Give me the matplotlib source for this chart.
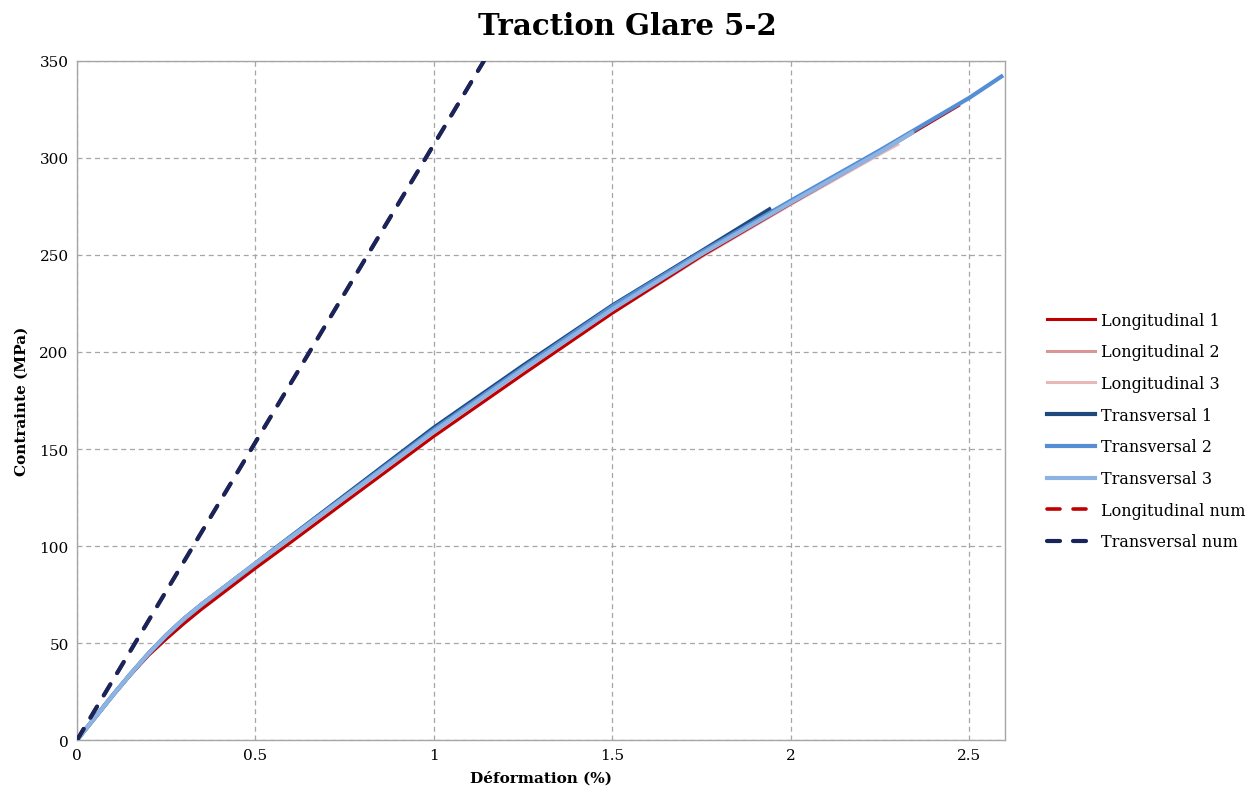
import matplotlib
matplotlib.use("Agg")
import matplotlib.pyplot as plt

plt.rcParams['font.family'] = ['DejaVu Serif']

# ---- data (strain %, stress MPa) ----
long1_x = [0, 0.05, 0.1, 0.15, 0.2, 0.25, 0.3, 0.35, 0.4, 0.45, 0.5, 0.6, 0.75, 1.0, 1.25, 1.5, 1.75, 2.0, 2.25, 2.47]
long1_y = [0, 11.5, 23, 33.5, 43.5, 52, 60, 67.5, 74.5, 81.5, 88.5, 102, 122.5, 156.5, 188.5, 220, 249.5, 276.5, 303, 327]
long2_x = [0, 0.05, 0.1, 0.15, 0.2, 0.25, 0.3, 0.35, 0.4, 0.45, 0.5, 0.6, 0.75, 1.0, 1.25, 1.5, 1.75, 2.0, 2.2]
long2_y = [0, 11.5, 23, 34, 44, 53, 61.5, 69, 76, 83, 90, 103.5, 124, 158, 190, 221, 250, 277, 298]
long3_x = [0, 0.05, 0.1, 0.15, 0.2, 0.25, 0.3, 0.35, 0.4, 0.45, 0.5, 0.6, 0.75, 1.0, 1.25, 1.5, 1.75, 2.0, 2.25, 2.3]
long3_y = [0, 11.5, 23, 34, 44, 53, 61.5, 69, 76, 83, 90, 103.5, 124, 157.5, 189.5, 220, 249, 276, 302, 307]
trans1_x = [0, 0.05, 0.1, 0.15, 0.2, 0.25, 0.3, 0.35, 0.4, 0.45, 0.5, 0.6, 0.75, 1.0, 1.25, 1.5, 1.75, 1.94]
trans1_y = [0, 11.5, 23, 34, 44.5, 54, 62.5, 70, 77, 84, 91, 105, 126, 161, 193, 224, 252, 273.5]
trans2_x = [0, 0.05, 0.1, 0.15, 0.2, 0.25, 0.3, 0.35, 0.4, 0.45, 0.5, 0.6, 0.75, 1.0, 1.25, 1.5, 1.75, 2.0, 2.25, 2.5, 2.59]
trans2_y = [0, 11.5, 23, 34, 44.5, 54, 62.5, 70, 77, 84, 91, 105, 125.5, 160, 192, 223.5, 251.5, 278, 304, 331, 342]
trans3_x = [0, 0.05, 0.1, 0.15, 0.2, 0.25, 0.3, 0.35, 0.4, 0.45, 0.5, 0.6, 0.75, 1.0, 1.25, 1.5, 1.75, 2.0, 2.25, 2.34]
trans3_y = [0, 11.5, 23, 34, 44.5, 54, 62.5, 70, 77, 84, 91, 104.5, 125, 159, 191, 222, 250.5, 277, 303, 313]
lnum_x = [0, 1.14]
lnum_y = [0, 350]
tnum_x = [0, 1.14]
tnum_y = [0, 350]

labels = ["Longitudinal 1", "Longitudinal 2", "Longitudinal 3",
          "Transversal 1", "Transversal 2", "Transversal 3",
          "Longitudinal num", "Transversal num"]
xticks = [0, 0.5, 1, 1.5, 2, 2.5]
xticklabels = ["0", "0.5", "1", "1.5", "2", "2.5"]
yticks = [0, 50, 100, 150, 200, 250, 300, 350]

fig = plt.figure(figsize=(12.54, 8.03), dpi=100)
ax = fig.add_axes([0.0614, 0.0772, 0.74, 0.8456])

dash = (0, (3.6, 3.6))
ax.plot(long2_x, long2_y, color="#d99694", lw=2.2, label=labels[1], zorder=3)
ax.plot(long3_x, long3_y, color="#e6b9b8", lw=2.2, label=labels[2], zorder=3)
ax.plot(long1_x, long1_y, color="#c00000", lw=2.2, label=labels[0], zorder=4)
ax.plot(trans1_x, trans1_y, color="#1f497d", lw=3, label=labels[3], zorder=5)
ax.plot(trans2_x, trans2_y, color="#558ed5", lw=3, label=labels[4], zorder=5)
ax.plot(trans3_x, trans3_y, color="#8db3e2", lw=3, label=labels[5], zorder=5)
ax.plot(lnum_x, lnum_y, color="#c00000", lw=2.6, ls=dash, dash_capstyle="round",
        label=labels[6], zorder=6)
ax.plot(tnum_x, tnum_y, color="#17255a", lw=3.0, ls=(0, (3.12, 3.12)), dash_capstyle="round",
        label=labels[7], zorder=7)

ax.set_xlim(0, 2.6)
ax.set_ylim(0, 350)
ax.set_xticks(xticks)
ax.set_xticklabels(xticklabels)
ax.set_yticks(yticks)
ax.tick_params(length=0, labelsize=11, pad=6)
ax.grid(True, color="#a6a6a6", ls=(0, (4, 3)), lw=0.9)
ax.set_axisbelow(True)
for s in ax.spines.values():
    s.set_color("#a6a6a6")
    s.set_linewidth(1.0)

ax.set_xlabel("Déformation (%)", fontsize=11, fontweight="bold", labelpad=6)
ax.set_ylabel("Contrainte (MPa)", fontsize=11, fontweight="bold", labelpad=8)
fig.suptitle("Traction Glare 5-2", fontsize=21, fontweight="bold", y=0.985)

h, l = ax.get_legend_handles_labels()
order = [l.index(x) for x in labels]
ax.legend([h[i] for i in order], [l[i] for i in order],
          loc="center left", bbox_to_anchor=(1.03, 0.455), frameon=False,
          fontsize=11.5, handlelength=3.0, labelspacing=0.92, handletextpad=0.4)

fig.savefig("out.png", dpi=100)
